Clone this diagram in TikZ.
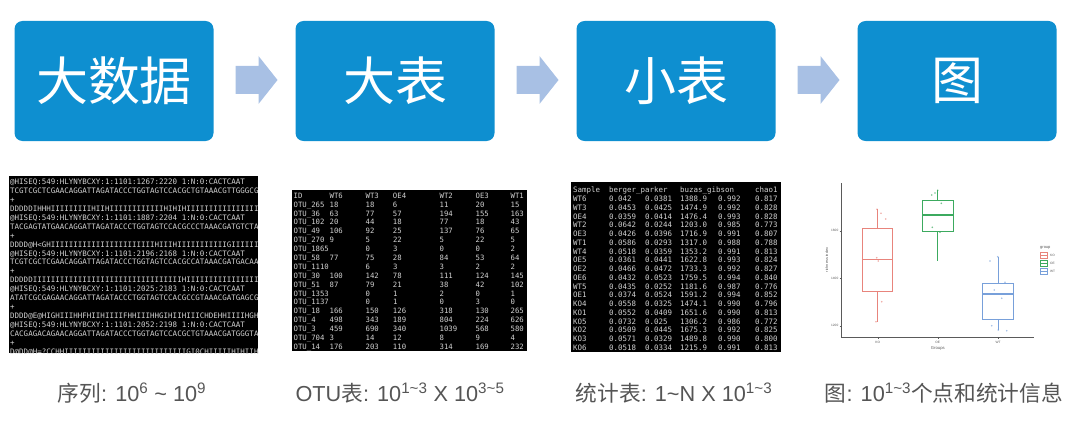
\documentclass[tikz,border=0pt]{standalone}
\usepackage{fontspec}
\setmainfont{Liberation Sans}
\setmonofont{DejaVu Sans Mono}
\newfontfamily\cjk{Noto Sans CJK SC}
\usetikzlibrary{calc}
\definecolor{boxblue}{RGB}{14,143,208}
\definecolor{arrowblue}{RGB}{168,192,228}
\definecolor{captiongray}{RGB}{85,85,85}
\definecolor{termtext}{RGB}{210,210,210}
\definecolor{koc}{RGB}{232,132,124}
\definecolor{oec}{RGB}{60,170,95}
\definecolor{wtc}{RGB}{120,160,218}
\definecolor{axisgray}{RGB}{90,90,90}
\newcommand\tcols[7]{\makebox[36pt][l]{#1}\makebox[36pt][l]{#2}\makebox[27.3pt][l]{#3}\makebox[46.7pt][l]{#4}\makebox[36pt][l]{#5}\makebox[35pt][l]{#6}#7}
\newcommand\scols[6]{\makebox[36pt][l]{#1}\makebox[36pt][l]{#2}\makebox[35pt][l]{#3}\makebox[38pt][l]{#4}\makebox[37pt][l]{#5}#6}
\begin{document}
\begin{tikzpicture}[x=1pt,y=-1pt,
  bigbox/.style={fill=boxblue, rounded corners=8pt, minimum width=199pt, minimum height=120pt, inner sep=0pt, text=white, font=\cjk\fontsize{52}{60}\selectfont},
  blockarrow/.style={fill=arrowblue},
  capt/.style={text=captiongray, inner sep=0pt, font=\fontsize{21.7}{26}\selectfont},
  termbg/.style={fill=black},
  fqline/.style={text=termtext, inner sep=0pt, anchor=base west, font=\ttfamily\fontsize{7.5}{9}\selectfont},
  otline/.style={text=termtext, inner sep=0pt, anchor=base west, font=\ttfamily\fontsize{7.3}{9}\selectfont},
  stline/.style={text=termtext, inner sep=0pt, anchor=base west, font=\ttfamily\fontsize{7.45}{9}\selectfont},
  plotaxis/.style={draw=axisgray, line width=0.7pt},
  tiny/.style={text=axisgray, inner sep=0pt, font=\fontsize{3.2}{3.6}\selectfont},
  bx/.style={line width=0.8pt},
  pt/.style={fill opacity=0.7}
]
\useasboundingbox (0,0) rectangle (1080,428);

% top row
\node[bigbox] (b1) at (114,81) {大数据};
\node[bigbox] (b2) at (395,81) {大表};
\node[bigbox] (b3) at (676,81) {小表};
\node[bigbox] (b4) at (957,81) {图};

\foreach \p/\q/\n in {b1/b2/1, b2/b3/2, b3/b4/3} {
  \coordinate (a\n) at ($(\p.east)!0.5!(\q.west)+(2,-1)$);
  \fill[blockarrow] ($(a\n)+(-21,-14)$) -- ++(23,0) -- ++(0,-10) -- ++(19,24) -- ++(-19,24) -- ++(0,-10) -- ++(-23,0) -- cycle;
}

% terminal 1: fastq
\fill[termbg] (9,176) rectangle (258,353);
\begin{scope}
\clip (9,176) rectangle (258,353);
\foreach \fq [count=\i] in {
@HISEQ:549:HLYNYBCXY:1:1101:1267:2220 1:N:0:CACTCAAT,
TCGTCGCTCGAACAGGATTAGATACCCTGGTAGTCCACGCTGTAAACGTTGGGCG,
+,
DDDDDIHHHIIIIIIIIIHIIHIIIIIIIIIIIIHIHIHIIIIIIIIIIIIIIIIII,
@HISEQ:549:HLYNYBCXY:1:1101:1887:2204 1:N:0:CACTCAAT,
TACGAGTATGAACAGGATTAGATACCCTGGTAGTCCACGCCCTAAACGATGTCTA,
+,
DDDD@H<GHIIIIIIIIIIIIIIIIIIIIIIIHIIIHIIIIIIIIIIIGIIIIIIIIIFH,
@HISEQ:549:HLYNYBCXY:1:1101:2196:2168 1:N:0:CACTCAAT,
TCGTCGCTCGAACAGGATTAGATACCCTGGTAGTCCACGCCATAAACGATGACAA,
+,
DDDDDIIIIIIIIIIIIIIIIIIIIIIIIIIIIIIIIIHIIIIIIIIIIIIIIIII,
@HISEQ:549:HLYNYBCXY:1:1101:2025:2183 1:N:0:CACTCAAT,
ATATCGCGAGAACAGGATTAGATACCCTGGTAGTCCACGCCGTAAACGATGAGCG,
+,
DDDD@E@HIGHIIIHHFHIIHIIIIFHHIIIHHGIHIIHIIICHDEHHIIIIHGH,
@HISEQ:549:HLYNYBCXY:1:1101:2052:2198 1:N:0:CACTCAAT,
CACGAGACAGAACAGGATTAGATACCCTGGTAGTCCACGCTGTAAACGATGGGTA,
+,
D@DD@H=?CCHHIIIIIIIIIIIIIIIIIIIIIIIIIIIGI0CHIIIIIHIHIIH@}
  \node[fqline] (fq\i) at (10, {184.4+(\i-1)*8.95}) {\fq};
\end{scope}

% terminal 2: OTU table
\fill[termbg] (292,190) rectangle (527,351);
\node[otline] (ot1) at (293.5,198.3) {\tcols{ID}{WT6}{WT3}{OE4}{WT2}{OE3}{WT1}};
\node[otline] (ot2) at (293.5,207.2) {\tcols{OTU\_265}{18}{18}{6}{11}{20}{15}};
\node[otline] (ot3) at (293.5,216.1) {\tcols{OTU\_36}{63}{77}{57}{194}{155}{163}};
\node[otline] (ot4) at (293.5,224.9) {\tcols{OTU\_102}{20}{44}{18}{77}{18}{43}};
\node[otline] (ot5) at (293.5,233.8) {\tcols{OTU\_49}{106}{92}{25}{137}{76}{65}};
\node[otline] (ot6) at (293.5,242.7) {\tcols{OTU\_270}{9}{5}{22}{5}{22}{5}};
\node[otline] (ot7) at (293.5,251.6) {\tcols{OTU\_1865}{}{0}{3}{0}{0}{2}};
\node[otline] (ot8) at (293.5,260.5) {\tcols{OTU\_58}{77}{75}{28}{84}{53}{64}};
\node[otline] (ot9) at (293.5,269.3) {\tcols{OTU\_1110}{}{6}{3}{3}{2}{2}};
\node[otline] (ot10) at (293.5,278.2) {\tcols{OTU\_30}{100}{142}{78}{111}{124}{145}};
\node[otline] (ot11) at (293.5,287.1) {\tcols{OTU\_51}{87}{79}{21}{38}{42}{102}};
\node[otline] (ot12) at (293.5,296.0) {\tcols{OTU\_1353}{}{0}{1}{2}{0}{1}};
\node[otline] (ot13) at (293.5,304.9) {\tcols{OTU\_1137}{}{0}{1}{0}{3}{0}};
\node[otline] (ot14) at (293.5,313.7) {\tcols{OTU\_18}{166}{150}{126}{318}{130}{265}};
\node[otline] (ot15) at (293.5,322.6) {\tcols{OTU\_4}{498}{343}{189}{804}{224}{626}};
\node[otline] (ot16) at (293.5,331.5) {\tcols{OTU\_3}{459}{690}{340}{1039}{568}{580}};
\node[otline] (ot17) at (293.5,340.4) {\tcols{OTU\_704}{3}{14}{12}{8}{9}{4}};
\node[otline] (ot18) at (293.5,349.3) {\tcols{OTU\_14}{176}{203}{110}{314}{169}{232}};

% terminal 3: statistics table
\fill[termbg] (571,182) rectangle (781,352);
\node[stline] (st1) at (573,192.7) {\scols{Sample}{berger\_parker}{}{buzas\_gibson}{}{chao1}};
\node[stline] (st2) at (573,201.5) {\scols{WT6}{0.042}{0.0381}{1388.9}{0.992}{0.817}};
\node[stline] (st3) at (573,210.2) {\scols{WT3}{0.0453}{0.0425}{1474.9}{0.992}{0.828}};
\node[stline] (st4) at (573,219.0) {\scols{OE4}{0.0359}{0.0414}{1476.4}{0.993}{0.828}};
\node[stline] (st5) at (573,227.7) {\scols{WT2}{0.0642}{0.0244}{1203.0}{0.985}{0.773}};
\node[stline] (st6) at (573,236.5) {\scols{OE3}{0.0426}{0.0396}{1716.9}{0.991}{0.807}};
\node[stline] (st7) at (573,245.3) {\scols{WT1}{0.0586}{0.0293}{1317.0}{0.988}{0.788}};
\node[stline] (st8) at (573,254.0) {\scols{WT4}{0.0518}{0.0359}{1353.2}{0.991}{0.813}};
\node[stline] (st9) at (573,262.8) {\scols{OE5}{0.0361}{0.0441}{1622.8}{0.993}{0.824}};
\node[stline] (st10) at (573,271.5) {\scols{OE2}{0.0466}{0.0472}{1733.3}{0.992}{0.827}};
\node[stline] (st11) at (573,280.3) {\scols{OE6}{0.0432}{0.0523}{1759.5}{0.994}{0.840}};
\node[stline] (st12) at (573,289.1) {\scols{WT5}{0.0435}{0.0252}{1181.6}{0.987}{0.776}};
\node[stline] (st13) at (573,297.8) {\scols{OE1}{0.0374}{0.0524}{1591.2}{0.994}{0.852}};
\node[stline] (st14) at (573,306.6) {\scols{KO4}{0.0558}{0.0325}{1474.1}{0.990}{0.796}};
\node[stline] (st15) at (573,315.3) {\scols{KO1}{0.0552}{0.0409}{1651.6}{0.990}{0.813}};
\node[stline] (st16) at (573,324.1) {\scols{KO5}{0.0732}{0.025}{1306.2}{0.986}{0.772}};
\node[stline] (st17) at (573,332.9) {\scols{KO2}{0.0509}{0.0445}{1675.3}{0.992}{0.825}};
\node[stline] (st18) at (573,341.6) {\scols{KO3}{0.0571}{0.0329}{1489.8}{0.990}{0.800}};
\node[stline] (st19) at (573,350.4) {\scols{KO6}{0.0518}{0.0334}{1215.9}{0.991}{0.813}};

% boxplot
\draw[plotaxis] (841,183) -- (841,337.7) -- (1034,337.7);
\foreach \yy/\lab [count=\k] in {230.7/1600, 278.3/1400, 325.7/1200} {
  \draw[plotaxis, line width=0.4pt] (839.5,\yy) -- (841,\yy);
  \node[tiny, anchor=east] (yt\k) at (838.5,\yy) {\lab};
}
\foreach \xx/\lab in {877.7/KO, 937.8/OE, 998/WT} {
  \draw[plotaxis, line width=0.4pt] (\xx,337.7) -- (\xx,339.2);
  \node[tiny] (xt\lab) at (\xx,342) {\lab};
}
\node[tiny, rotate=90, font=\fontsize{3.8}{4}\selectfont] (ylab) at (826.7,260) {richness index};
\node[tiny, font=\fontsize{4.2}{5}\selectfont] (xlab) at (937.8,348.5) {Groups};

% KO
\draw[bx, koc] (862.7,228.3) rectangle (892.7,291.7);
\draw[bx, koc, line width=1.2pt] (862.7,259.3) -- (892.7,259.3);
\draw[bx, koc] (877.7,228.3) -- (877.7,209.3) (877.7,291.7) -- (877.7,321.7);
\foreach \px/\py in {877/209.3, 881/213.3, 885.7/219, 876.7/257.7, 878.3/261, 881.7/301.7, 876/321.7}
  \fill[koc, pt] (\px,\py) circle (0.9);
% OE
\draw[bx, oec] (922.3,200.7) rectangle (953.3,231.7);
\draw[bx, oec, line width=1.2pt] (922.3,215) -- (953.3,215);
\draw[bx, oec] (937.8,200.7) -- (937.8,190.3) (937.8,231.7) -- (937.8,261);
\foreach \px/\py in {931.7/195, 937.7/190.3, 941.3/203.3, 932.3/227.3, 940/232.3, 935/193}
  \fill[oec, pt] (\px,\py) circle (0.9);
% WT
\draw[bx, wtc] (982.7,283.3) rectangle (1013.3,319);
\draw[bx, wtc, line width=1.2pt] (982.7,294) -- (1013.3,294);
\draw[bx, wtc] (998,283.3) -- (998,256.7) (998,319) -- (998,330);
\foreach \px/\py in {997.7/256.7, 990/261, 1005/282.3, 994.3/290, 1001.7/298.3, 991.7/325.7, 1006.7/330.7, 998.3/330}
  \fill[wtc, pt] (\px,\py) circle (0.9);

% legend
\node[tiny, anchor=west, font=\fontsize{4}{5}\selectfont] (lgt) at (1040,247.7) {group};
\foreach \yy/\lab/\col in {255/KO/koc, 263.3/OE/oec, 271/WT/wtc} {
  \draw[\col, line width=0.5pt] (1040.5,\yy-2.8) rectangle (1047.5,\yy+2.8);
  \draw[\col, line width=0.6pt] (1040.5,\yy) -- (1047.5,\yy);
  \node[tiny, anchor=west] (lg\lab) at (1050,\yy) {\lab};
}

% captions
\node[capt] (c1) at (132,393) {{\cjk 序列}: 10\textsuperscript{6} \textasciitilde{} 10\textsuperscript{9}};
\node[capt] (c2) at (400,393) {OTU{\cjk 表}: 10\textsuperscript{1\textasciitilde3} X 10\textsuperscript{3\textasciitilde5}};
\node[capt] (c3) at (674,393) {{\cjk 统计表}: 1\textasciitilde N X 10\textsuperscript{1\textasciitilde3}};
\node[capt] (c4) at (944,393) {{\cjk 图}: 10\textsuperscript{1\textasciitilde3}{\cjk 个点和统计信息}};
\end{tikzpicture}
\end{document}
